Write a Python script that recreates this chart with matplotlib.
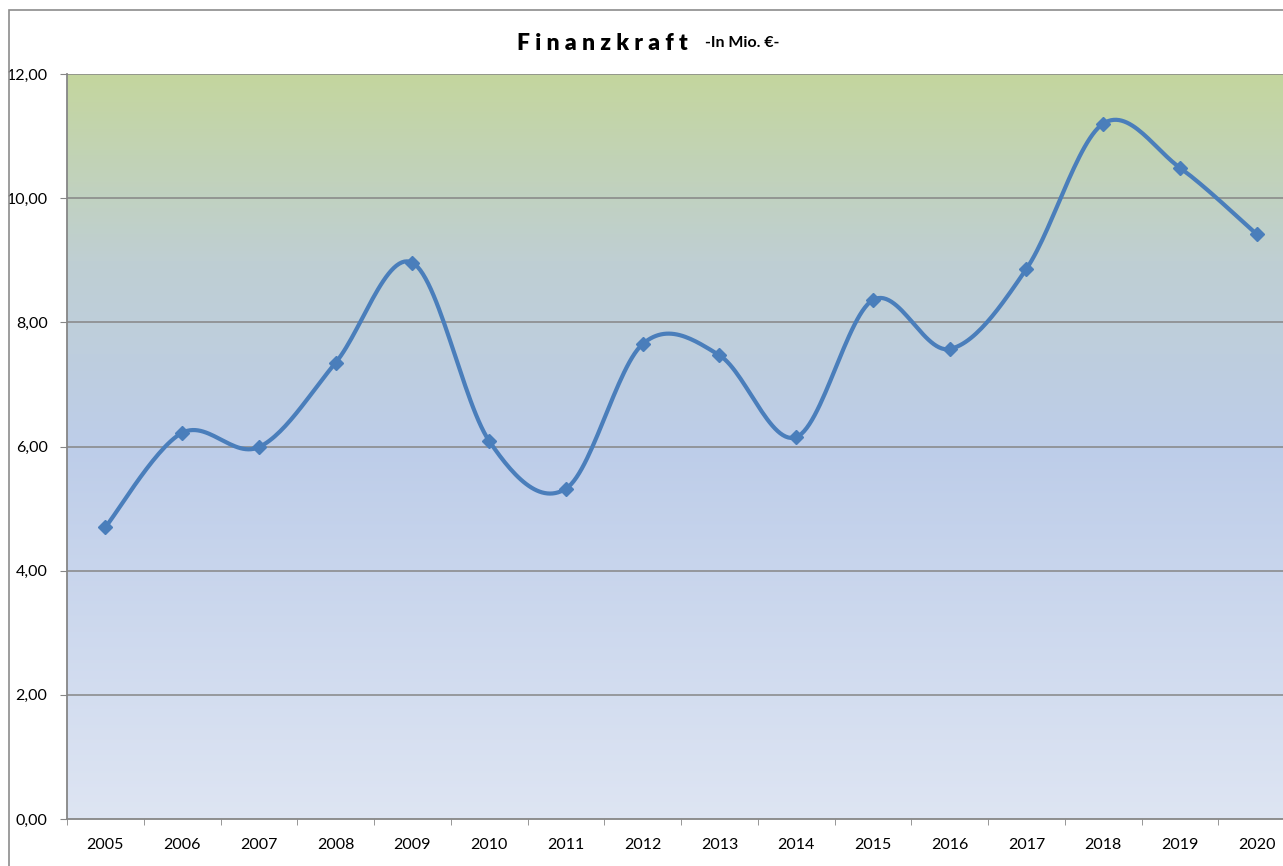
import numpy as np
import matplotlib.pyplot as plt
from matplotlib.colors import LinearSegmentedColormap
from matplotlib.patches import Rectangle

plt.rcParams['font.family'] = ['Lato', 'DejaVu Sans']

# Daten
jahre = ['2005', '2006', '2007', '2008', '2009', '2010', '2011', '2012',
         '2013', '2014', '2015', '2016', '2017', '2018', '2019', '2020']
werte = [4.70, 6.22, 5.99, 7.35, 8.96, 6.09, 5.32, 7.65,
         7.47, 6.15, 8.36, 7.57, 8.86, 11.20, 10.49, 9.42]
y_ticks = [0, 2, 4, 6, 8, 10, 12]

blau = '#4a7ebb'


def glatt(x, y, n=30):
    # Excel-artige Glaettung (Bezier mit Catmull-Rom Kontrollpunkten)
    p = np.column_stack([x, y]).astype(float)
    pts = []
    for i in range(len(p) - 1):
        p0 = p[i - 1] if i > 0 else p[i]
        p3 = p[i + 2] if i + 2 < len(p) else p[i + 1]
        c1 = p[i] + (p[i + 1] - p0) / 6
        c2 = p[i + 1] - (p3 - p[i]) / 6
        t = np.linspace(0, 1, n)[:, None]
        seg = ((1 - t) ** 3 * p[i] + 3 * (1 - t) ** 2 * t * c1
               + 3 * (1 - t) * t ** 2 * c2 + t ** 3 * p[i + 1])
        pts.append(seg if i == 0 else seg[1:])
    pts = np.vstack(pts)
    return pts[:, 0], pts[:, 1]


fig = plt.figure(figsize=(12.83, 8.66), dpi=100)
fig.patches.append(Rectangle((9 / 1283, -0.1), 1.2, 1.1 - 10 / 866,
                             transform=fig.transFigure, fill=False,
                             edgecolor='#8c8c8c', linewidth=1.2))

ax = fig.add_axes([67 / 1283, 47 / 866, 1228 / 1283, 745 / 866])
x = np.arange(len(jahre))
ax.set_xlim(-0.5, len(jahre) - 0.5)
ax.set_ylim(0, 12)

# Hintergrund-Verlauf
cmap = LinearSegmentedColormap.from_list('bg', [
    (0.0, '#dee5f3'), (0.5, '#bdcde9'), (0.75, '#bfcfd3'), (1.0, '#c4d69e')])
grad = np.linspace(0, 1, 256)[:, None]
ax.imshow(grad, aspect='auto', cmap=cmap, origin='lower',
          extent=[-0.5, len(jahre) - 0.5, 0, 12], zorder=0)

for yt in y_ticks[1:]:
    ax.axhline(yt, color='#868686', linewidth=1.1, zorder=1)

xs, ys = glatt(x, werte)
ax.plot(xs, ys, color=blau, linewidth=3.0, zorder=3, solid_capstyle='round')
ax.plot(x, werte, linestyle='none', marker='D', markersize=7.5,
        color=blau, zorder=4)

ax.set_yticks(y_ticks)
ax.set_yticklabels([f'{v:.2f}'.replace('.', ',') for v in y_ticks],
                   fontsize=11.5)
ax.set_xticks(x)
ax.set_xticklabels(jahre, fontsize=11.5)
ax.set_xticks(np.arange(len(jahre) + 1) - 0.5, minor=True)
ax.tick_params(axis='x', which='major', length=0, pad=14)
ax.tick_params(axis='x', which='minor', length=4, color='#868686')
ax.tick_params(axis='y', length=5, color='#868686', pad=9)

for s in ['top', 'right']:
    ax.spines[s].set_visible(False)
for s in ['left', 'bottom']:
    ax.spines[s].set_color('#868686')
    ax.spines[s].set_linewidth(1.3)

fig.text(688 / 1283, 0.950, 'F i n a n z k r a f t', fontsize=16.5,
         fontweight='heavy', ha='right', va='center')
fig.text(705 / 1283, 0.950, '-In Mio. €-', fontsize=11.5, fontweight='bold',
         ha='left', va='center')

fig.savefig('out.png', dpi=100)
